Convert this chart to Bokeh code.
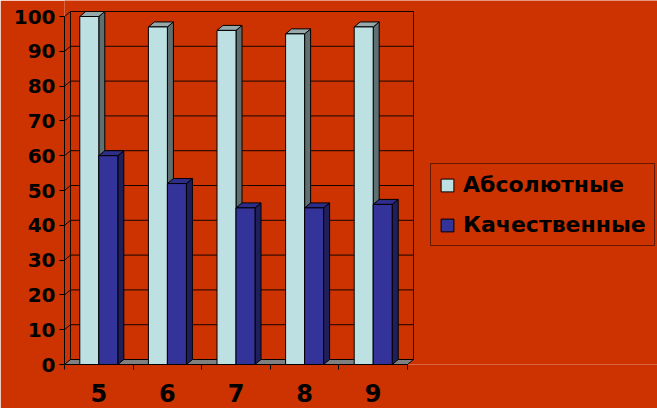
from bokeh.plotting import figure
from bokeh.models import (Range1d, LinearAxis, FixedTicker, Legend, LegendItem)
from bokeh.embed import file_html
from bokeh.resources import INLINE

# ---- data ----
categories = ["5", "6", "7", "8", "9"]
series_names = ["Абсолютные", "Качественные"]
absolute = [100, 97, 96, 95, 97]
quality = [60, 52, 45, 45, 46]
y_ticks = [0, 10, 20, 30, 40, 50, 60, 70, 80, 90, 100]

# ---- style / geometry ----
BG = "#CC3300"
FONT = "DejaVu Sans"
PX_X = 68.6          # pixels per category
PX_Y = 3.48          # pixels per value unit
DX = 6 / PX_X        # depth offset (x)
DY = 5 / PX_Y        # depth offset (y)
BW = 19 / PX_X       # bar width
GRID = "#140400"
n = len(categories)

W, H = 657, 408
LEFT, BOTTOM = 64, 44
p = figure(width=W, height=H, output_backend="svg", toolbar_location=None,
           x_range=Range1d(0, (W - LEFT) / PX_X), y_range=Range1d(0, (H - BOTTOM) / PX_Y),
           min_border_left=LEFT, min_border_right=0, min_border_top=0,
           min_border_bottom=BOTTOM, x_axis_type=None, y_axis_type=None)
p.background_fill_color = BG
p.border_fill_color = BG
p.outline_line_color = None
p.xgrid.visible = False
p.ygrid.visible = False

# back wall gridlines + side wall diagonals
ymax = max(y_ticks)
gl = [t for t in y_ticks if t > 0]
p.segment(x0=[DX] * len(gl), y0=[t + DY for t in gl], x1=[n + DX] * len(gl),
          y1=[t + DY for t in gl], line_color=GRID, line_width=1)
p.segment(x0=[0] * len(gl), y0=gl, x1=[DX] * len(gl), y1=[t + DY for t in gl],
          line_color=GRID, line_width=1)
p.segment(x0=[DX, n + DX], y0=[DY, DY], x1=[DX, n + DX], y1=[ymax + DY, ymax + DY],
          line_color=GRID, line_width=1)

# floor
p.patch(x=[0, DX, n + DX, n], y=[0, DY, DY, 0], fill_color="#808080",
        line_color="black", line_width=1)


def bars(vals, offset, front, side, top):
    x0 = [i + 0.5 + offset for i in range(n)]
    x1 = [x + BW for x in x0]
    side_xs = [[a, a + DX, a + DX, a] for a in x1]
    side_ys = [[0, DY, v + DY, v] for v in vals]
    top_xs = [[a, a + DX, b + DX, b] for a, b in zip(x0, x1)]
    top_ys = [[v, v + DY, v + DY, v] for v in vals]
    p.patches(side_xs, side_ys, fill_color=side, line_color="black", line_width=1)
    p.patches(top_xs, top_ys, fill_color=top, line_color="black", line_width=1)
    r = p.quad(left=x0, right=x1, bottom=[0] * n, top=vals, fill_color=front,
               line_color="black", line_width=1)
    return r


r1 = bars(absolute, -BW, "#BDE0E3", "#5E7072", "#96AAAC")
r2 = bars(quality, 0, "#333399", "#1F1F5C", "#2E2E8A")

# y axis
yax = LinearAxis(ticker=FixedTicker(ticks=y_ticks), bounds=(0, ymax))
yax.major_tick_out = 5
yax.major_tick_in = 0
yax.minor_tick_out = 0
yax.minor_tick_in = 0
yax.axis_line_color = "black"
yax.major_tick_line_color = "black"
yax.major_label_text_font = FONT
yax.major_label_text_font_style = "bold"
yax.major_label_text_font_size = "20px"
yax.major_label_text_color = "black"
yax.major_label_standoff = 4
p.add_layout(yax, "left")

# x axis: labels at centers, ticks at boundaries
centers = [i + 0.5 for i in range(n)]
xax = LinearAxis(ticker=FixedTicker(ticks=centers, minor_ticks=list(range(n + 1))),
                 bounds=(0, n))
xax.major_label_overrides = {c: lab for c, lab in zip(centers, categories)}
xax.major_tick_out = 0
xax.major_tick_in = 0
xax.minor_tick_out = 5
xax.minor_tick_in = 0
xax.axis_line_color = "black"
xax.minor_tick_line_color = "black"
xax.major_label_text_font = FONT
xax.major_label_text_font_style = "bold"
xax.major_label_text_font_size = "24px"
xax.major_label_text_color = "black"
xax.major_label_standoff = 14
p.add_layout(xax, "below")

legend = Legend(items=[LegendItem(label=series_names[0], renderers=[r1]),
                       LegendItem(label=series_names[1], renderers=[r2])],
                location=(366, 118))
legend.background_fill_alpha = 0
legend.border_line_color = "black"
legend.border_line_width = 1
legend.label_text_font = FONT
legend.label_text_font_style = "bold"
legend.label_text_font_size = "22px"
legend.label_text_color = "black"
legend.glyph_width = 16
legend.glyph_height = 16
legend.label_standoff = 8
legend.label_height = 24
legend.spacing = 15
legend.padding = 8
legend.margin = 0
p.add_layout(legend, "center")

open("out.html", "w").write(file_html(p, INLINE))
